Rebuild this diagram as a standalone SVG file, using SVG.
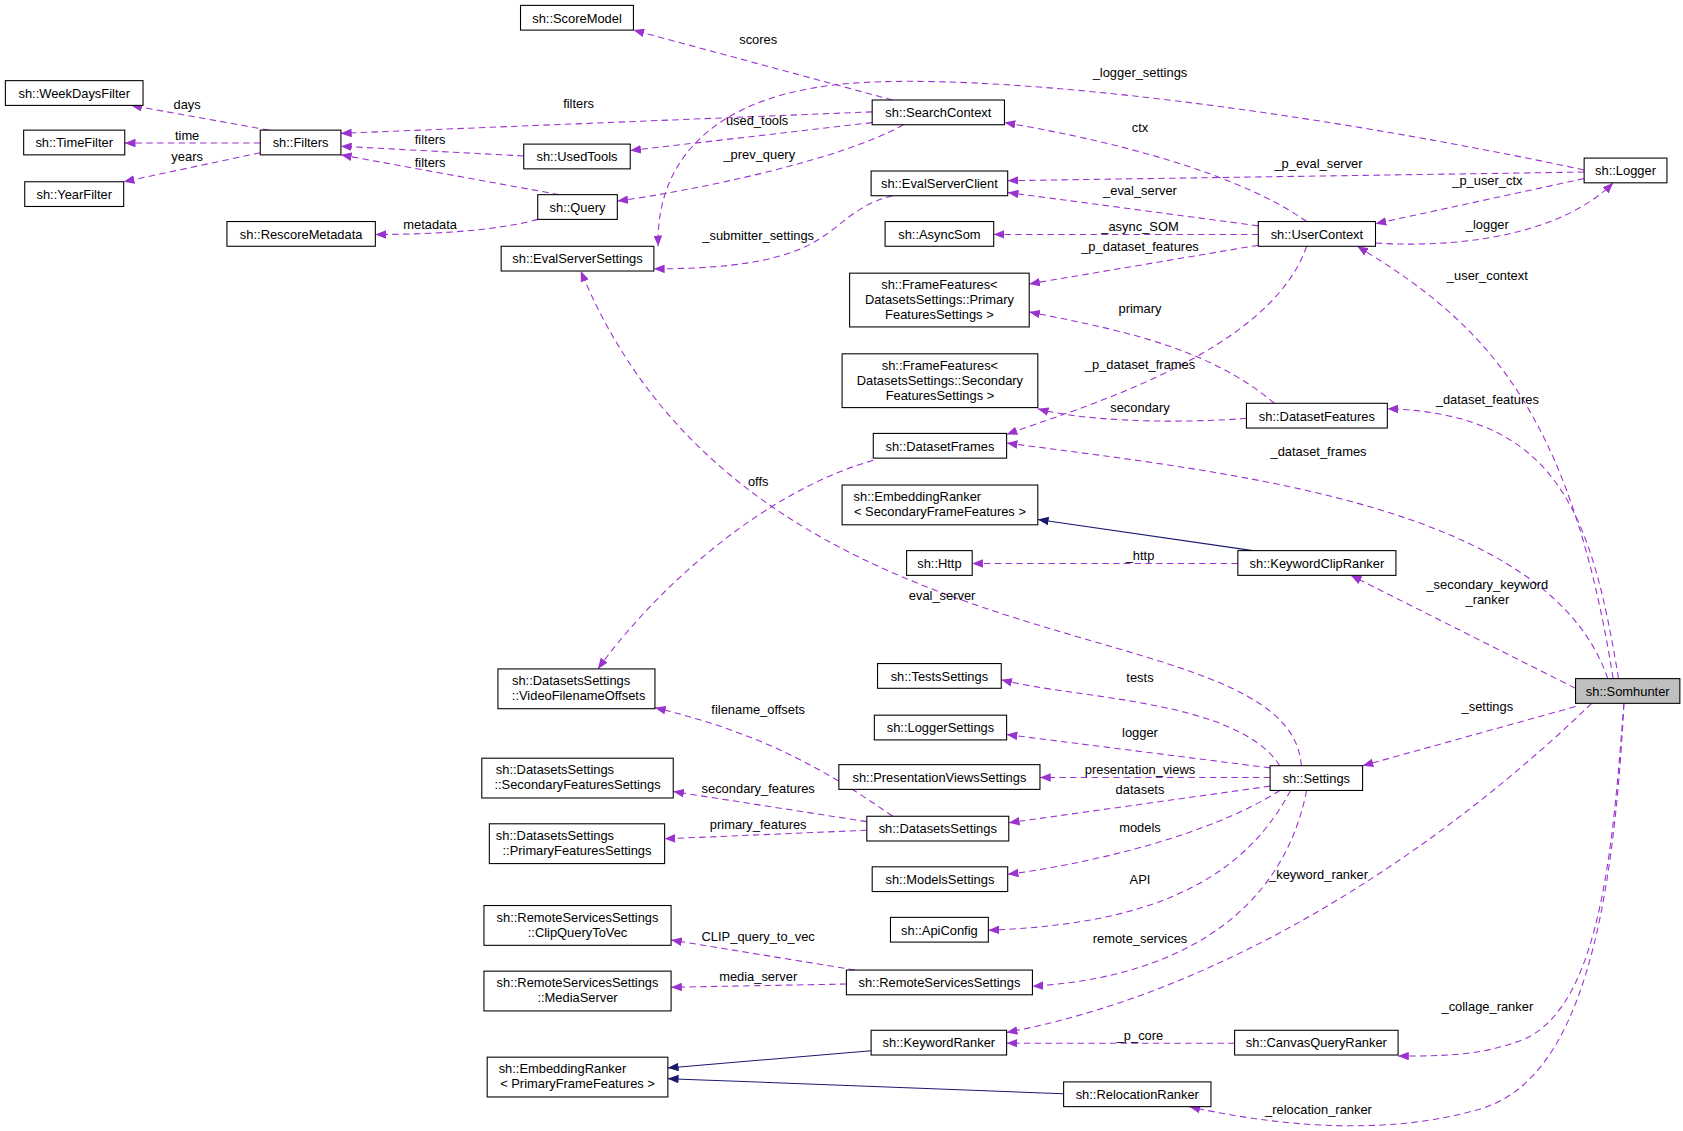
<svg xmlns="http://www.w3.org/2000/svg" width="1683" height="1131" viewBox="0 0 1683 1131">
<style>
.n rect{fill:#fff;stroke:#000;stroke-width:1}
.n.g rect{fill:#bfbfbf}
text{font-family:"Liberation Sans",Arial,sans-serif;font-size:12px;fill:#000;text-anchor:middle}
.e path{fill:none;stroke:#9a32cd;stroke-width:1;stroke-dasharray:6,4;marker-end:url(#a)}
.e path.i{stroke:#191970;stroke-dasharray:none;marker-end:url(#b)}
</style>
<defs>
<marker id="a" viewBox="0 0 10 8" refX="10" refY="4" markerWidth="10" markerHeight="8" markerUnits="userSpaceOnUse" orient="auto"><path d="M0,0L10,4L0,8z" fill="#9a32cd"/></marker>
<marker id="b" viewBox="0 0 10 8" refX="10" refY="4" markerWidth="10" markerHeight="8" markerUnits="userSpaceOnUse" orient="auto"><path d="M0,0L10,4L0,8z" fill="#191970"/></marker>
</defs>
<rect width="1683" height="1131" fill="#fff"/>
<g transform="scale(1.07545)">
<g id="edges" class="e">
<path d="M830,93 L589,28"/><text x="705" y="41">scores</text>
<path d="M811,104 L317,124"/><text x="538" y="100">filters</text>
<path d="M811,114 L586,140"/><text x="704" y="116">used_tools</text>
<path d="M840,116 C780,150 640,178 574,187"/><text x="706" y="148">_prev_query</text>
<path d="M1473,158 C1200,100 950,72 820,76 C640,80 610,170 612,229"/><text x="1060" y="72">_logger_settings</text>
<path d="M1473,160 L937,168"/><text x="1226" y="156">_p_eval_server</text>
<path d="M1473,166 L1279,208"/><text x="1383" y="172">_p_user_ctx</text>
<path d="M1279,226 C1380,232 1460,210 1500,170"/><text x="1383" y="213">_logger</text>
<path d="M1215,206 C1150,160 1030,130 934,114"/><text x="1060" y="123">ctx</text>
<path d="M1170,210 L937,179"/><text x="1060" y="181">_eval_server</text>
<path d="M1170,218 L924,218"/><text x="1060" y="215">_async_SOM</text>
<path d="M1170,228 L957,264"/><text x="1060" y="233">_p_dataset_features</text>
<path d="M1215,229 C1180,330 1000,380 936,404"/><text x="1060" y="343">_p_dataset_frames</text>
<path d="M830,182 C760,200 790,250 608,250"/><text x="705" y="223">_submitter_settings</text>
<path d="M250,121 L122,98"/><text x="174" y="101">days</text>
<path d="M242,133 L116,133"/><text x="174" y="130">time</text>
<path d="M242,142 L115,169"/><text x="174" y="150">years</text>
<path d="M487,145 L317,136"/><text x="400" y="134">filters</text>
<path d="M520,181 L317,144"/><text x="400" y="155">filters</text>
<path d="M500,204 C460,215 400,218 349,218"/><text x="400" y="213">metadata</text>
<path d="M1185,375 C1120,320 1030,305 957,290"/><text x="1060" y="291">primary</text>
<path d="M1159,389 C1080,395 1000,390 965,380"/><text x="1060" y="383">secondary</text>
<path d="M1500,631 C1460,380 1380,300 1262,229"/><text x="1383" y="260">_user_context</text>
<path d="M1505,631 C1480,480 1450,385 1290,380"/><text x="1383" y="376">_dataset_features</text>
<path d="M1495,631 C1440,470 1150,440 936,412"/><text x="1226" y="424">_dataset_frames</text>
<path d="M1465,640 L1256,535"/><text x="1383" y="548">_secondary_keyword</text><text x="1383" y="562">_ranker</text>
<path class="i" d="M1165,512 L965,483"/>
<path d="M1151,524 L904,524"/><text x="1060" y="521">_http</text>
<path d="M812,428 C700,460 600,560 556,622"/><text x="705" y="452">offs</text>
<path d="M1210,712 C1200,560 700,640 540,252"/><text x="876" y="558">eval_server</text>
<path d="M1465,657 L1267,712"/><text x="1383" y="661">_settings</text>
<path d="M1190,712 C1150,650 1000,650 931,632"/><text x="1060" y="634">tests</text>
<path d="M1181,714 L936,683"/><text x="1060" y="685">logger</text>
<path d="M1181,723 L967,723"/><text x="1060" y="720">presentation_views</text>
<path d="M1181,731 L938,765"/><text x="1060" y="738">datasets</text>
<path d="M1190,735 C1120,780 1000,805 937,813"/><text x="1060" y="774">models</text>
<path d="M1200,735 C1150,830 1050,860 919,865"/><text x="1060" y="822">API</text>
<path d="M1215,735 C1190,860 1080,910 960,917"/><text x="1060" y="877">remote_services</text>
<path d="M830,759 C760,710 700,680 609,658"/><text x="705" y="664">filename_offsets</text>
<path d="M806,764 L626,736"/><text x="705" y="737">secondary_features</text>
<path d="M806,772 L618,780"/><text x="705" y="771">primary_features</text>
<path d="M795,902 L624,874"/><text x="705" y="875">CLIP_query_to_vec</text>
<path d="M787,915 L624,918"/><text x="705" y="912">media_server</text>
<path d="M1480,654 C1350,780 1150,920 936,960"/><text x="1226" y="817">_keyword_ranker</text>
<path d="M1148,970 L936,970"/><text x="1060" y="967">_p_core</text>
<path class="i" d="M810,977 L621,993"/>
<path class="i" d="M989,1017 L621,1003"/>
<path d="M1510,654 C1500,780 1490,930 1420,965 C1380,982 1340,982 1300,982"/><text x="1383" y="940">_collage_ranker</text>
<path d="M1510,654 C1500,850 1470,1000 1380,1030 C1300,1055 1200,1050 1106,1029"/><text x="1226" y="1036">_relocation_ranker</text>
</g>
<g id="ScoreModel" class="n"><rect x="484" y="5" width="105" height="23"/><text x="536.5" y="21">sh::ScoreModel</text></g>
<g id="WeekDaysFilter" class="n"><rect x="5" y="75" width="128" height="23"/><text x="69" y="91">sh::WeekDaysFilter</text></g>
<g id="TimeFilter" class="n"><rect x="22" y="121" width="94" height="23"/><text x="69" y="137">sh::TimeFilter</text></g>
<g id="YearFilter" class="n"><rect x="23" y="169" width="92" height="23"/><text x="69" y="185">sh::YearFilter</text></g>
<g id="Filters" class="n"><rect x="242" y="121" width="75" height="23"/><text x="279.5" y="137">sh::Filters</text></g>
<g id="RescoreMetadata" class="n"><rect x="211" y="206" width="138" height="23"/><text x="280" y="222">sh::RescoreMetadata</text></g>
<g id="UsedTools" class="n"><rect x="487" y="134" width="99" height="23"/><text x="536.5" y="150">sh::UsedTools</text></g>
<g id="Query" class="n"><rect x="500" y="181" width="74" height="23"/><text x="537" y="197">sh::Query</text></g>
<g id="EvalServerSettings" class="n"><rect x="466" y="229" width="142" height="23"/><text x="537" y="245">sh::EvalServerSettings</text></g>
<g id="SearchContext" class="n"><rect x="811" y="93" width="123" height="23"/><text x="872.5" y="109">sh::SearchContext</text></g>
<g id="EvalServerClient" class="n"><rect x="810" y="159" width="127" height="23"/><text x="873.5" y="175">sh::EvalServerClient</text></g>
<g id="AsyncSom" class="n"><rect x="823" y="206" width="101" height="23"/><text x="873.5" y="222">sh::AsyncSom</text></g>
<g id="FrameFeaturesPrimary" class="n"><rect x="790" y="254" width="167" height="50"/><text x="873.5" y="269">sh::FrameFeatures&lt;</text><text x="873.5" y="283">DatasetsSettings::Primary</text><text x="873.5" y="297">FeaturesSettings &gt;</text></g>
<g id="FrameFeaturesSecondary" class="n"><rect x="783" y="329" width="182" height="50"/><text x="874" y="344">sh::FrameFeatures&lt;</text><text x="874" y="358">DatasetsSettings::Secondary</text><text x="874" y="372">FeaturesSettings &gt;</text></g>
<g id="DatasetFrames" class="n"><rect x="812" y="403" width="124" height="23"/><text x="874" y="419">sh::DatasetFrames</text></g>
<g id="EmbeddingRankerSecondary" class="n"><rect x="783" y="451" width="182" height="37"/><text x="853" y="466">sh::EmbeddingRanker</text><text x="874" y="480">&lt; SecondaryFrameFeatures &gt;</text></g>
<g id="Http" class="n"><rect x="843" y="512" width="61" height="23"/><text x="873.5" y="528">sh::Http</text></g>
<g id="Logger" class="n"><rect x="1473" y="147" width="77" height="23"/><text x="1511.5" y="163">sh::Logger</text></g>
<g id="UserContext" class="n"><rect x="1170" y="206" width="109" height="23"/><text x="1224.5" y="222">sh::UserContext</text></g>
<g id="DatasetFeatures" class="n"><rect x="1159" y="375" width="131" height="23"/><text x="1224.5" y="391">sh::DatasetFeatures</text></g>
<g id="KeywordClipRanker" class="n"><rect x="1151" y="512" width="147" height="23"/><text x="1224.5" y="528">sh::KeywordClipRanker</text></g>
<g id="Somhunter" class="n g"><rect x="1465" y="631" width="97" height="23"/><text x="1513.5" y="647">sh::Somhunter</text></g>
<g id="VideoFilenameOffsets" class="n"><rect x="463" y="622" width="146" height="37"/><text x="531" y="637">sh::DatasetsSettings</text><text x="538" y="651">::VideoFilenameOffsets</text></g>
<g id="TestsSettings" class="n"><rect x="816" y="617" width="115" height="23"/><text x="873.5" y="633">sh::TestsSettings</text></g>
<g id="LoggerSettings" class="n"><rect x="813" y="665" width="123" height="23"/><text x="874.5" y="681">sh::LoggerSettings</text></g>
<g id="PresentationViewsSettings" class="n"><rect x="780" y="711" width="187" height="23"/><text x="873.5" y="727">sh::PresentationViewsSettings</text></g>
<g id="Settings" class="n"><rect x="1181" y="712" width="86" height="23"/><text x="1224" y="728">sh::Settings</text></g>
<g id="SecondaryFeaturesSettings" class="n"><rect x="448" y="705" width="178" height="37"/><text x="516" y="720">sh::DatasetsSettings</text><text x="537" y="734">::SecondaryFeaturesSettings</text></g>
<g id="DatasetsSettings" class="n"><rect x="806" y="759" width="132" height="23"/><text x="872" y="775">sh::DatasetsSettings</text></g>
<g id="PrimaryFeaturesSettings" class="n"><rect x="455" y="766" width="163" height="37"/><text x="516" y="781">sh::DatasetsSettings</text><text x="536.5" y="795">::PrimaryFeaturesSettings</text></g>
<g id="ModelsSettings" class="n"><rect x="811" y="806" width="126" height="23"/><text x="874" y="822">sh::ModelsSettings</text></g>
<g id="ApiConfig" class="n"><rect x="828" y="853" width="91" height="23"/><text x="873.5" y="869">sh::ApiConfig</text></g>
<g id="ClipQueryToVec" class="n"><rect x="450" y="842" width="174" height="37"/><text x="537" y="857">sh::RemoteServicesSettings</text><text x="537" y="871">::ClipQueryToVec</text></g>
<g id="MediaServer" class="n"><rect x="450" y="903" width="174" height="37"/><text x="537" y="918">sh::RemoteServicesSettings</text><text x="537" y="932">::MediaServer</text></g>
<g id="RemoteServicesSettings" class="n"><rect x="787" y="902" width="173" height="23"/><text x="873.5" y="918">sh::RemoteServicesSettings</text></g>
<g id="KeywordRanker" class="n"><rect x="810" y="958" width="126" height="23"/><text x="873" y="974">sh::KeywordRanker</text></g>
<g id="CanvasQueryRanker" class="n"><rect x="1148" y="958" width="152" height="23"/><text x="1224" y="974">sh::CanvasQueryRanker</text></g>
<g id="EmbeddingRankerPrimary" class="n"><rect x="453" y="983" width="168" height="37"/><text x="523" y="998">sh::EmbeddingRanker</text><text x="537" y="1012">&lt; PrimaryFrameFeatures &gt;</text></g>
<g id="RelocationRanker" class="n"><rect x="989" y="1006" width="137" height="23"/><text x="1057.5" y="1022">sh::RelocationRanker</text></g>
</g>
</svg>
